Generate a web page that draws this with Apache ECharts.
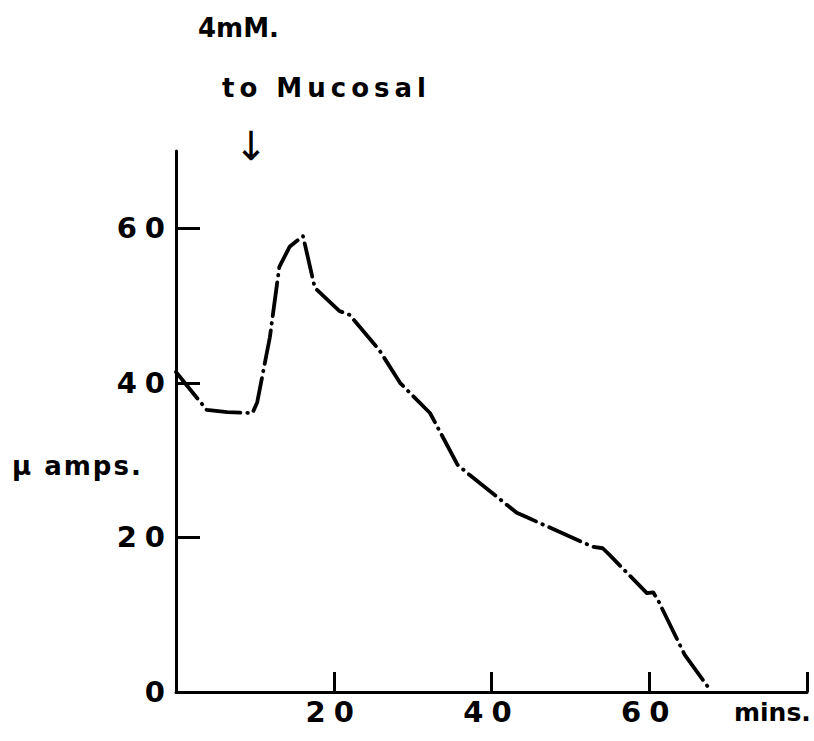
<!DOCTYPE html>
<html>
<head>
<meta charset="utf-8">
<script src="https://cdn.jsdelivr.net/npm/echarts@6/dist/echarts.min.js"></script>
<style>
  html, body { margin: 0; padding: 0; background: #fff; }
  #chart { width: 814px; height: 741px; }
</style>
</head>
<body>
<div id="chart"></div>
<script>
// time in minutes
const timeMins = [0, 3.9, 6.5, 9.7, 10.3, 11.9, 13.1, 14.4, 16.1, 17.6, 20.7, 22, 25.8, 28.4, 32.2, 35.7, 37.2, 43.2, 44.5, 52.8, 54.1, 55, 59.7, 60.5, 61.1, 64.5, 67.7];
// current in micro amps
const microAmps = [41.4, 36.5, 36.2, 36.1, 37.5, 45.9, 55, 57.6, 59, 52.3, 49.3, 48.8, 44.2, 40, 36.1, 29.4, 28.1, 23.2, 22.6, 18.8, 18.6, 17.7, 12.8, 12.9, 11.9, 4.8, 0.3];
const yTickLabels = [0, 20, 40, 60];
const yTickMarks = [20, 40, 60];
const xTickLabels = [20, 40, 60];
const xTickMarks = [20, 40, 60, 80];

const data = timeMins.map((t, i) => [t, microAmps[i]]);
const FONT = 'DejaVu Sans';

const chart = echarts.init(document.getElementById('chart'), null, { renderer: 'svg' });
chart.setOption({
  animation: false,
  backgroundColor: '#fff',
  grid: { left: 176, right: 7, top: 151, bottom: 49 },
  xAxis: {
    type: 'value', min: 0, max: 80, interval: 20,
    axisLine: { show: true, lineStyle: { color: '#000', width: 3 } },
    axisTick: { show: true, inside: true, length: 20, customValues: xTickMarks, lineStyle: { color: '#000', width: 3 } },
    axisLabel: { customValues: xTickLabels, color: '#000', fontSize: 29, fontWeight: 'bold', fontFamily: FONT, margin: 5 },
    splitLine: { show: false }
  },
  yAxis: {
    type: 'value', min: 0, max: 70, interval: 20,
    axisLine: { show: true, lineStyle: { color: '#000', width: 3 } },
    axisTick: { show: true, inside: true, length: 24, customValues: yTickMarks, lineStyle: { color: '#000', width: 3 } },
    axisLabel: { customValues: yTickLabels, color: '#000', fontSize: 29, fontWeight: 'bold', fontFamily: FONT, margin: 3 },
    splitLine: { show: false }
  },
  series: [{
    type: 'line',
    data: data,
    symbol: 'none',
    lineStyle: { color: '#000', width: 3.8, type: [34, 7, 0.5, 7], cap: 'round', join: 'round' }
  }],
  graphic: [
    { type: 'text', x: 198, y: 28, style: { text: '4mM.', fontSize: 26, fontWeight: 'bold', fontFamily: FONT, fill: '#000', textVerticalAlign: 'middle' } },
    { type: 'text', x: 222, y: 88, style: { text: 'to Mucosal', fontSize: 26, fontWeight: 'bold', fontFamily: FONT, fill: '#000', textVerticalAlign: 'middle' } },
    { type: 'text', x: 251, y: 146, style: { text: '↓', fontSize: 40, fontFamily: FONT, fill: '#000', textAlign: 'center', textVerticalAlign: 'middle' } },
    { type: 'text', x: 12, y: 466, style: { text: 'μ amps.', fontSize: 26, fontWeight: 'bold', fontFamily: FONT, fill: '#000', textVerticalAlign: 'middle' } },
    { type: 'text', x: 734, y: 712, style: { text: 'mins.', fontSize: 25, fontWeight: 'bold', fontFamily: FONT, fill: '#000', textVerticalAlign: 'middle' } }
  ]
});

const spacing = { 'to Mucosal': '5px', 'μ amps.': '2px', '0': '8px', '20': '8px', '40': '8px', '60': '8px' };
document.querySelectorAll('#chart svg text').forEach(function (el) {
  const s = spacing[el.textContent];
  if (s) el.style.letterSpacing = s;
});
</script>
</body>
</html>
